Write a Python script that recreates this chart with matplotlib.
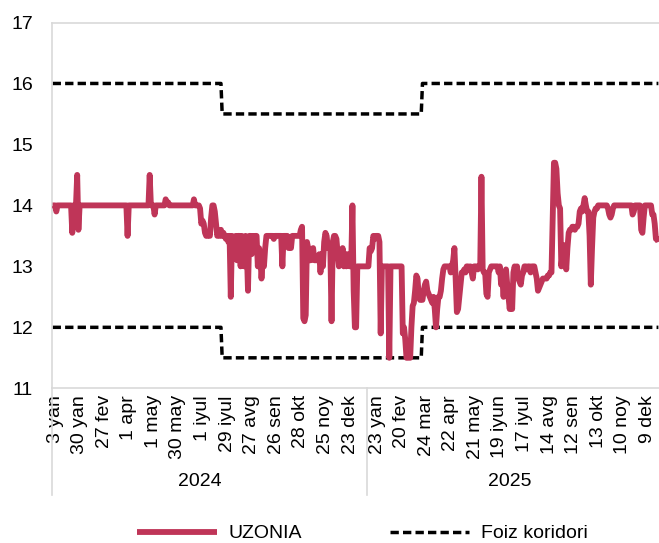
import numpy as np
import matplotlib
matplotlib.use('Agg')
import matplotlib.pyplot as plt
import matplotlib.transforms as mtransforms
from matplotlib.lines import Line2D

plt.rcParams['font.family'] = ['Liberation Sans', 'DejaVu Sans']
plt.rcParams['lines.scale_dashes'] = False

# ---------------- data ----------------
years = ['2024', '2025']
tick_labels_2024 = ['3 yan', '30 yan', '27 fev', '1 apr', '1 may', '30 may', '1 iyul',
                    '29 iyul', '27 avg', '26 sen', '28 okt', '25 noy', '23 dek']
tick_labels_2025 = ['23 yan', '20 fev', '24 mar', '22 apr', '21 may', '19 iyun', '17 iyul',
                    '14 avg', '12 sen', '13 okt', '10 noy', '9 dek']

uzonia_2024 = [
    14.0, 14.0, 14.0, 13.9, 14.0, 14.0, 14.0, 14.0, 14.0, 14.0,      # 0
    14.0, 14.0, 14.0, 14.0, 14.0, 14.0, 13.55, 14.0, 14.0, 14.0,     # 10
    14.5, 13.6, 14.0, 14.0, 14.0, 14.0, 14.0, 14.0, 14.0, 14.0,      # 20
    14.0, 14.0, 14.0, 14.0, 14.0, 14.0, 14.0, 14.0, 14.0, 14.0,      # 30
    14.0, 14.0, 14.0, 14.0, 14.0, 14.0, 14.0, 14.0, 14.0, 14.0,      # 40
    14.0, 14.0, 14.0, 14.0, 14.0, 14.0, 14.0, 14.0, 14.0, 14.0,      # 50
    14.0, 13.5, 14.0, 14.0, 14.0, 14.0, 14.0, 14.0, 14.0, 14.0,      # 60
    14.0, 14.0, 14.0, 14.0, 14.0, 14.0, 14.0, 14.0, 14.0, 14.5,      # 70
    14.0, 14.0, 14.0, 13.85, 14.0, 14.0, 14.0, 14.0, 14.0, 14.0,     # 80
    14.0, 14.0, 14.1, 14.05, 14.05, 14.0, 14.0, 14.0, 14.0, 14.0,    # 90
    14.0, 14.0, 14.0, 14.0, 14.0, 14.0, 14.0, 14.0, 14.0, 14.0,      # 100
    14.0, 14.0, 14.0, 14.0, 14.0, 14.1, 14.0, 14.0, 14.0, 14.0,      # 110
    13.95, 13.7, 13.75, 13.7, 13.55, 13.5, 13.5, 13.55, 13.5, 13.8,  # 120
    14.0, 14.0, 13.9, 13.7, 13.5, 13.55, 13.5, 13.6, 13.5, 13.55,    # 130
    13.5, 13.45, 13.5, 13.4, 13.5, 12.5, 13.5, 13.45, 13.3, 13.5,    # 140
    13.1, 13.5, 13.5, 13.0, 13.5, 13.45, 13.0, 13.5, 13.3, 12.6,     # 150
    13.5, 13.5, 13.2, 13.5, 13.4, 13.5, 13.5, 13.0, 13.3, 13.2,      # 160
    12.8, 13.1, 13.0, 13.3, 13.5, 13.5, 13.5, 13.5, 13.5, 13.5,      # 170
    13.45, 13.5, 13.5, 13.5, 13.5, 13.5, 13.5, 13.0, 13.5, 13.5,     # 180
    13.5, 13.5, 13.3, 13.4, 13.3, 13.5, 13.5, 13.5, 13.5, 13.5,      # 190
    13.5, 13.5, 13.6, 13.65, 12.15, 12.1, 12.2, 13.4, 13.3, 13.1,    # 200
    13.1, 13.15, 13.3, 13.1, 13.1, 13.1, 13.1, 13.2, 12.9, 13.2,     # 210
    13.0, 13.4, 13.55, 13.5, 13.3, 13.3, 13.3, 12.1, 13.4, 13.5,     # 220
    13.5, 13.45, 13.2, 13.0, 13.2, 13.1, 13.3, 13.0, 13.2, 13.0,     # 230
    13.2, 13.1, 13.0, 13.05, 14.0, 12.6, 12.0, 12.0, 13.0, 13.0,     # 240
    13.0, 13.0, 13.0, 13.0, 13.0, 13.0,                              # 250
]
uzonia_2025 = [
    13.0, 13.0, 13.3, 13.25, 13.3, 13.5, 13.45, 13.5, 13.5, 13.5,    # 256
    13.4, 11.9, 13.0, 13.0, 13.0, 13.0, 13.0, 13.0, 11.5, 13.0,      # 266
    13.0, 13.0, 13.0, 13.0, 13.0, 13.0, 13.0, 13.0, 13.0, 11.9,      # 276
    12.0, 11.8, 11.5, 11.5, 11.6, 11.5, 12.0, 12.35, 12.4, 12.6,     # 286
    12.85, 12.8, 12.5, 12.45, 12.5, 12.45, 12.6, 12.7, 12.75, 12.6,  # 296
    12.55, 12.5, 12.45, 12.4, 12.5, 12.3, 12.0, 12.3, 12.5, 12.5,    # 306
    12.6, 12.8, 12.95, 13.0, 13.0, 13.0, 13.0, 13.0, 12.9, 13.0,     # 316
    13.1, 13.3, 12.8, 12.25, 12.3, 12.5, 12.7, 12.9, 12.9, 12.95,    # 326
    12.9, 13.0, 13.0, 12.95, 13.0, 12.9, 12.8, 13.0, 13.0, 13.0,     # 336
    12.95, 13.0, 13.0, 14.47, 12.95, 12.9, 12.9, 12.55, 12.5, 12.9,  # 346
    12.95, 13.0, 13.0, 13.0, 13.0, 13.0, 13.0, 12.9, 13.0, 12.7,     # 356
    12.8, 12.5, 12.9, 12.95, 12.7, 12.5, 12.3, 12.6, 12.3, 12.9,     # 366
    13.0, 12.9, 13.0, 12.8, 12.75, 12.7, 12.85, 12.9, 13.0, 13.0,    # 376
    12.95, 13.0, 13.0, 12.9, 13.0, 13.0, 13.0, 12.9, 12.8, 12.6,     # 386
    12.65, 12.7, 12.75, 12.8, 12.8, 12.8, 12.8, 12.85, 12.85, 12.9,  # 396
    12.9, 13.8, 14.7, 14.7, 14.6, 14.2, 14.0, 13.95, 13.0, 13.2,     # 406
    13.35, 13.3, 12.95, 13.3, 13.55, 13.6, 13.6, 13.65, 13.65, 13.6, # 416
    13.65, 13.65, 13.7, 13.9, 13.95, 13.9, 14.0, 14.12, 14.0, 13.9,  # 426
    13.9, 13.5, 12.7, 13.3, 13.8, 13.9, 13.95, 13.95, 14.0, 14.0,    # 436
    14.0, 14.0, 14.0, 14.0, 14.0, 14.0, 13.95, 13.85, 13.8, 13.85,   # 446
    13.95, 14.0, 14.0, 14.0, 14.0, 14.0, 14.0, 14.0, 14.0, 14.0,     # 456
    14.0, 14.0, 14.0, 14.0, 14.0, 14.0, 13.85, 13.9, 14.0, 14.0,     # 466
    14.0, 14.0, 14.0, 13.6, 13.55, 13.8, 14.0, 14.0, 14.0, 14.0,     # 476
    14.0, 14.0, 13.85, 13.85, 13.7, 13.45, 13.45, 13.4,              # 486
]

corridor_low_2024 = [12.0] * 138 + [11.5] * 118
corridor_low_2025 = [11.5] * 45 + [12.0] * 193
corridor_high_2024 = [16.0] * 138 + [15.5] * 118
corridor_high_2025 = [15.5] * 45 + [16.0] * 193

# ---------------- build ----------------
uzonia = np.array(uzonia_2024 + uzonia_2025)
low = np.array(corridor_low_2024 + corridor_low_2025)
high = np.array(corridor_high_2024 + corridor_high_2025)
n24 = len(uzonia_2024)
N = len(uzonia)
x = np.arange(N)
xc = np.arange(len(low))

tick_pos = list(range(0, 20 * len(tick_labels_2024), 20)) + \
           [n24 + 6 + 20 * i for i in range(len(tick_labels_2025))]
tick_labels = tick_labels_2024 + tick_labels_2025

W, H = 659, 543
fig = plt.figure(figsize=(W / 100, H / 100), dpi=100)
ax_left, ax_right, ax_top, ax_bottom = 52, 659, 22.5, 388.3
ax = fig.add_axes([ax_left / W, 1 - ax_bottom / H, (ax_right - ax_left) / W,
                   (ax_bottom - ax_top) / H])

red = '#BF3558'
dash = (6.0, 3.0)
lw_red = 4.2
lw_dash = 2.5
ax.plot(xc, high, color='black', lw=lw_dash, dashes=dash, dash_capstyle='butt', zorder=2)
ax.plot(xc, low, color='black', lw=lw_dash, dashes=dash, dash_capstyle='butt', zorder=2)
ax.plot(x, uzonia, color=red, lw=lw_red, solid_joinstyle='round', solid_capstyle='butt', zorder=3)

ax.set_xlim(-0.5, N - 0.5)
ax.set_ylim(11, 17)
ax.set_yticks(range(11, 18))
ax.set_xticks(tick_pos)
ax.set_xticklabels(tick_labels, rotation=90, va='top', ha='center')
ax.tick_params(axis='both', length=0, labelsize=14, colors='black')
ax.tick_params(axis='y', pad=13.5)
ax.tick_params(axis='x', pad=5)
offset = mtransforms.ScaledTranslation(2.5 / 100, 0, fig.dpi_scale_trans)
for lab in ax.get_xticklabels():
    lab.set_transform(lab.get_transform() + offset)

grey = '#D9D9D9'
for s in ['left', 'bottom', 'top']:
    ax.spines[s].set_color(grey)
    ax.spines[s].set_linewidth(1.2)
ax.spines['right'].set_visible(False)

trans = ax.get_xaxis_transform()
sep_bottom = -(495 - ax_bottom) / (ax_bottom - ax_top)
for xs in [-0.5, n24 - 0.5]:
    ax.plot([xs, xs], [0, sep_bottom], transform=trans, clip_on=False,
            color=grey, lw=1.2)

year_y = -(482 - ax_bottom) / (ax_bottom - ax_top)
ax.text(np.mean(tick_pos[:len(tick_labels_2024)]), year_y, years[0], transform=trans,
        ha='center', va='center', fontsize=14)
ax.text(np.mean(tick_pos[len(tick_labels_2024):]), year_y, years[1], transform=trans,
        ha='center', va='center', fontsize=14)

handles = [Line2D([], [], color=red, lw=lw_red, solid_capstyle='butt'),
           Line2D([], [], color='black', lw=lw_dash, dashes=dash, dash_capstyle='butt')]
fig.legend(handles, ['UZONIA', 'Foiz koridori'], loc='center',
           bbox_to_anchor=(0.55, 1 - 533.5 / H), ncol=2, frameon=False, fontsize=14,
           handlelength=4.1, handletextpad=0.6, columnspacing=4.5, borderpad=0.0)

fig.savefig('out.png', dpi=100)
